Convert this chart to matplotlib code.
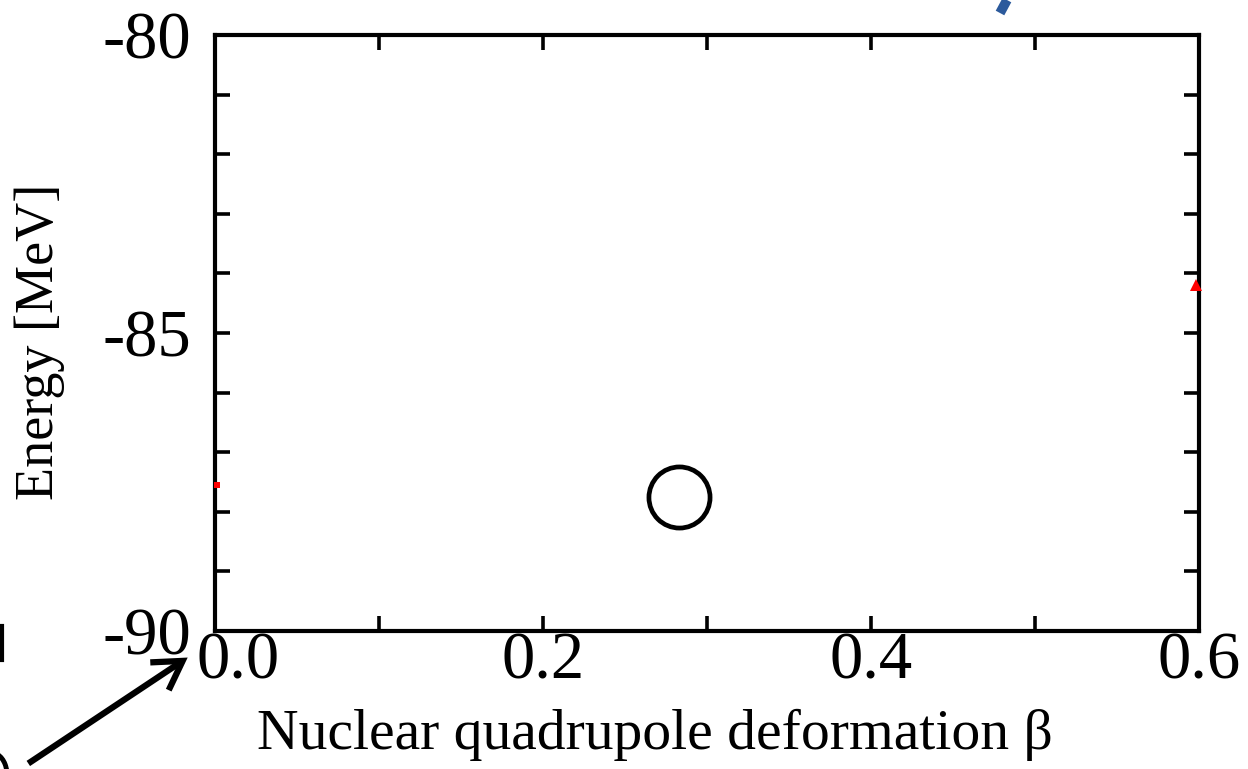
import matplotlib
matplotlib.use("Agg")
import matplotlib.pyplot as plt
from matplotlib.patches import FancyArrowPatch, Arc
from matplotlib.lines import Line2D
from matplotlib.transforms import ScaledTranslation

plt.rcParams['font.family'] = ['Liberation Serif', 'DejaVu Serif']

# ---- data ----
x_ticks = [0.0, 0.1, 0.2, 0.3, 0.4, 0.5, 0.6]
x_tick_labels = ['0.0', '', '0.2', '', '0.4', '', '0.6']
y_ticks = [-90, -89, -88, -87, -86, -85, -84, -83, -82, -81, -80]
y_tick_labels = ['-90', '', '', '', '', '-85', '', '', '', '', '-80']

circle_x = [0.283]
circle_y = [-87.75]

red_x = [0.001, 0.598]
red_y = [-87.55, -84.2]

x_label = 'Nuclear quadrupole deformation β'
y_label = 'Energy [MeV]'

# ---- figure ----
fig = plt.figure(figsize=(12.48, 7.69), dpi=100)
ax = fig.add_axes([215/1248, 1 - 631/769, 984/1248, 596/769])
ax.set_xlim(0.0, 0.6)
ax.set_ylim(-90, -80)

ax.plot(circle_x, circle_y, 'o', ms=44, mfc='none', mec='black', mew=3.4)
ax.plot(red_x[:1], red_y[:1], 's', ms=4, color='red', mew=0, clip_on=False, zorder=5)
ax.plot(red_x[1:], red_y[1:], '^', ms=8, color='red', mew=0, clip_on=False, zorder=5)

ax.set_xticks(x_ticks)
ax.set_xticklabels(x_tick_labels)
ax.set_yticks(y_ticks)
ax.set_yticklabels(y_tick_labels)
ax.tick_params(direction='in', length=11, width=2.6, top=True, right=True,
               labelsize=48, colors='black')
ax.tick_params(axis='x', pad=0.5)
ax.tick_params(axis='y', pad=17)
for s in ax.spines.values():
    s.set_linewidth(3.0)

# shift the 0.0 label slightly right as in the reference
lbl0 = ax.get_xticklabels()[0]
lbl0.set_transform(lbl0.get_transform() + ScaledTranslation(23/100, 0, fig.dpi_scale_trans))

fig.text(40/1248, 1 - 342/769, y_label, rotation=90, ha='center', va='center', fontsize=39)
fig.text(655/1248, 1 - 749/769, x_label, ha='center', va='baseline', fontsize=41.5)

# slide artifacts: arrow, cropped glyph pieces
fig.patches.append(FancyArrowPatch(
    (26/1248, 1 - 765/769), (190/1248, 1 - 656/769), transform=fig.transFigure,
    arrowstyle='->,head_length=0.5,head_width=0.3', mutation_scale=40,
    lw=4.5, color='black', joinstyle='miter', capstyle='butt'))
fig.lines.append(Line2D([1.5/1248, 1.5/1248], [1 - 626/769, 1 - 660/769],
                        transform=fig.transFigure, lw=3, color='black'))
fig.patches.append(Arc((-8/1248, 1 - 775/769), 30/1248, 44/769, theta1=-20, theta2=80,
                       transform=fig.transFigure, lw=3.5, color='black'))
fig.lines.append(Line2D([1000/1248, 1007/1248], [1 - 13/769, 1.0],
                        transform=fig.transFigure, lw=7, color='#2C5A9C',
                        solid_capstyle='butt'))

fig.savefig('out.png', dpi=100)
